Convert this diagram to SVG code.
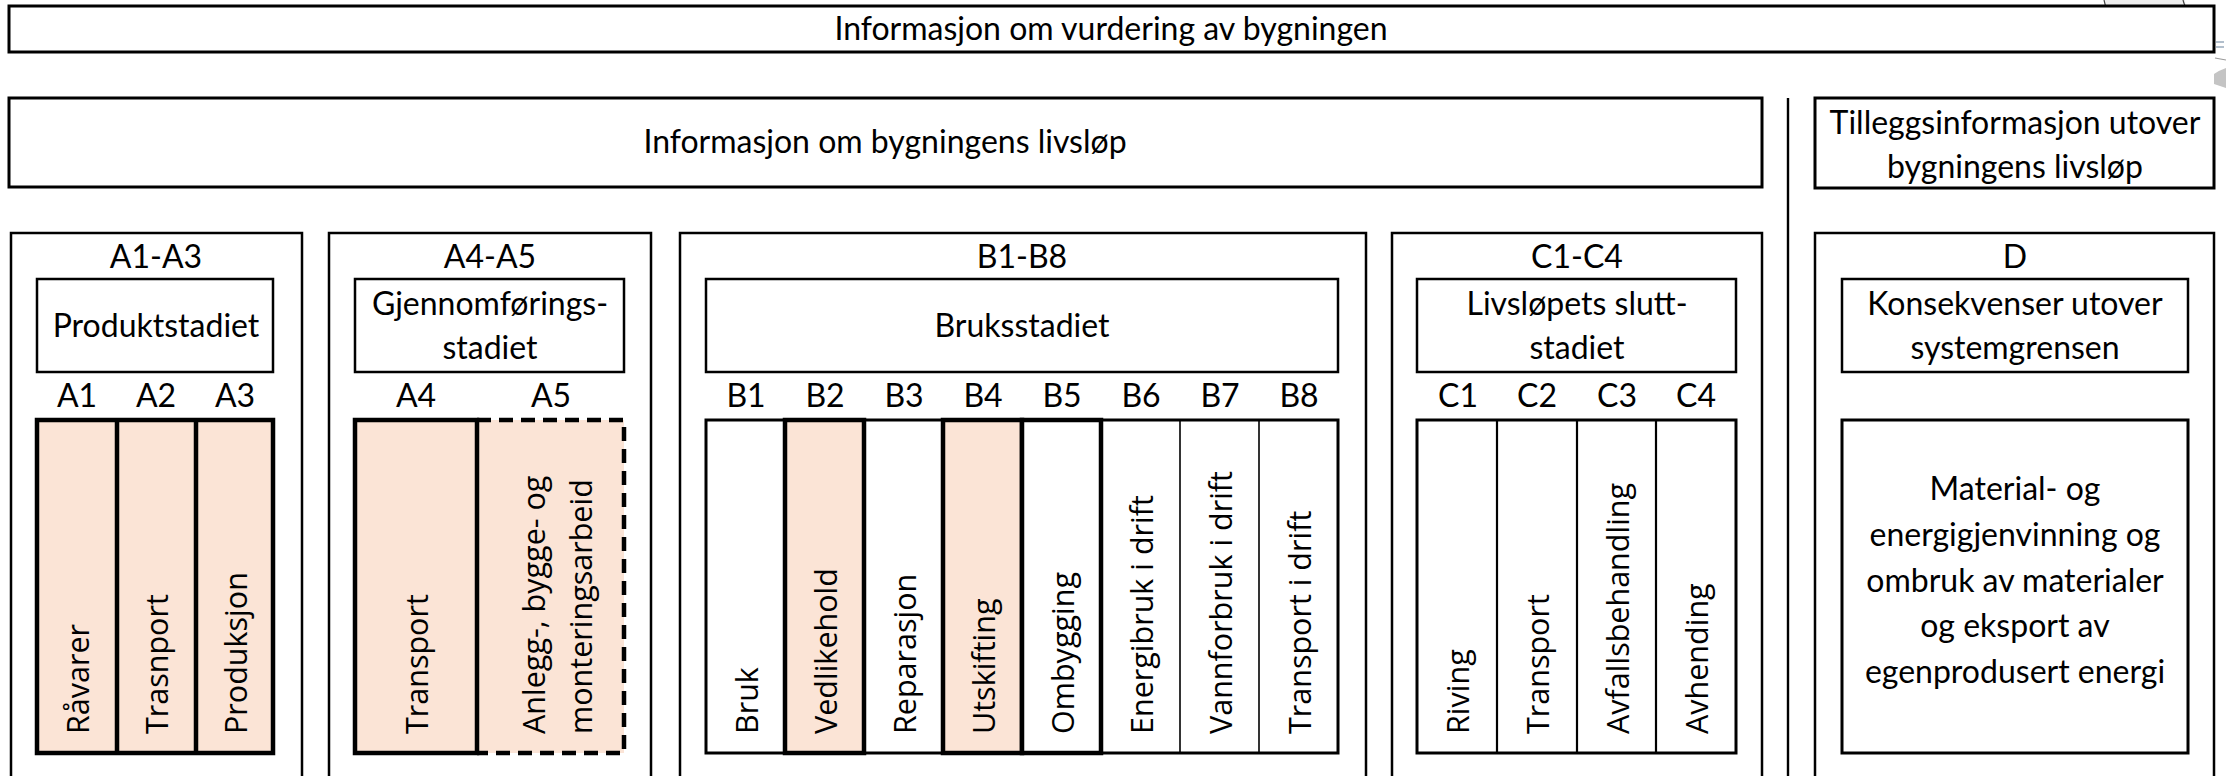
<svg xmlns="http://www.w3.org/2000/svg" width="2226" height="776" viewBox="0 0 2226 776">
<defs>
<style>
.t{font-family:Lato,"Liberation Sans",sans-serif;font-size:32px;fill:#000;text-anchor:middle}
.r{font-family:"Open Sans","Noto Sans","Liberation Sans",sans-serif;font-size:30.5px;fill:#000;text-anchor:start}
.big{fill:#fff;stroke:#000;stroke-width:3}
.outer{fill:#fff;stroke:#000;stroke-width:2.5}
.lbl{fill:#fff;stroke:#000;stroke-width:2.5}
.peach{fill:#FBE4D6}
.thick{stroke:#000;stroke-width:4.5}
.thin{stroke:#000;stroke-width:1.6;fill:none}
.mid{stroke:#000;stroke-width:2.2;fill:none}
</style>
</defs>
<rect width="2226" height="776" fill="#fff"/>

<g id="artifact">
<path d="M2104,0 L2185,0 L2186,8 L2104,8 Z" fill="#eeeeee"/>
<path d="M2104,0 Q2105,4 2106,8" stroke="#444" stroke-width="1.2" fill="none"/>
<path d="M2183,0 Q2184,4 2186,8" stroke="#444" stroke-width="1.2" fill="none"/>
<path d="M2214,74 Q2220,70 2226,68 L2226,88 Q2220,86 2214,84 Z" fill="#c4c4c4"/>
<line x1="2216" y1="42" x2="2224" y2="42" stroke="#9ab" stroke-width="1.5"/>
<line x1="2216" y1="47" x2="2224" y2="47" stroke="#9ab" stroke-width="1.5"/>
<line x1="2215" y1="58" x2="2226" y2="60" stroke="#999" stroke-width="1.2"/>
</g>

<g id="top">
<rect class="big" x="9" y="6" width="2205" height="46"/>
<text class="t" x="1111" y="40">Informasjon om vurdering av bygningen</text>
</g>

<g id="livslop">
<rect class="big" x="9" y="98" width="1753" height="89"/>
<text class="t" x="885" y="153">Informasjon om bygningens livsløp</text>
</g>

<g id="tillegg">
<rect class="big" x="1815" y="98" width="399" height="90"/>
<text class="t" x="2015" y="134">Tilleggsinformasjon utover</text>
<text class="t" x="2015" y="178">bygningens livsløp</text>
</g>

<g id="connectors">
<line x1="1788" y1="98" x2="1788" y2="776" stroke="#000" stroke-width="2.4"/>
</g>

<g id="A1-A3">
<rect class="outer" x="11" y="233" width="291" height="600"/>
<text class="t" x="156" y="268">A1-A3</text>
<rect class="lbl" x="37" y="279" width="236" height="93"/>
<text class="t" x="156" y="337">Produktstadiet</text>
<text class="t" x="77" y="407">A1</text>
<text class="t" x="156" y="407">A2</text>
<text class="t" x="235" y="407">A3</text>
<rect class="peach thick" x="37" y="420" width="236" height="333"/>
<line class="thick" x1="117" y1="420" x2="117" y2="753"/>
<line class="thick" x1="196" y1="420" x2="196" y2="753"/>
<text class="r" transform="translate(89,734) rotate(-90)">Råvarer</text>
<text class="r" transform="translate(168,734) rotate(-90)">Trasnport</text>
<text class="r" transform="translate(247,734) rotate(-90)">Produksjon</text>
</g>

<g id="A4-A5">
<rect class="outer" x="329" y="233" width="322" height="600"/>
<text class="t" x="490" y="268">A4-A5</text>
<rect class="lbl" x="355" y="279" width="269" height="93"/>
<text class="t" x="490" y="315">Gjennomførings-</text>
<text class="t" x="490" y="359">stadiet</text>
<text class="t" x="416" y="407">A4</text>
<text class="t" x="551" y="407">A5</text>
<rect class="peach" x="477" y="420" width="147" height="333"/>
<path d="M477,420 H624 V753 H477" fill="none" stroke="#000" stroke-width="4.5" stroke-dasharray="14 8"/>
<rect class="peach thick" x="355" y="420" width="122" height="333"/>
<text class="r" transform="translate(428,734) rotate(-90)">Transport</text>
<text class="r" transform="translate(545,734) rotate(-90)">Anlegg-, bygge- og</text>
<text class="r" transform="translate(592,734) rotate(-90)">monteringsarbeid</text>
</g>

<g id="B1-B8">
<rect class="outer" x="680" y="233" width="686" height="600"/>
<text class="t" x="1022" y="268">B1-B8</text>
<rect class="lbl" x="706" y="279" width="632" height="93"/>
<text class="t" x="1022" y="337">Bruksstadiet</text>
<text class="t" x="746" y="407">B1</text>
<text class="t" x="825" y="407">B2</text>
<text class="t" x="904" y="407">B3</text>
<text class="t" x="983" y="407">B4</text>
<text class="t" x="1062" y="407">B5</text>
<text class="t" x="1141" y="407">B6</text>
<text class="t" x="1220" y="407">B7</text>
<text class="t" x="1299" y="407">B8</text>
<rect x="706" y="420" width="632" height="333" fill="#fff" stroke="#000" stroke-width="3"/>
<line class="thin" x1="1180" y1="420" x2="1180" y2="753"/>
<line class="thin" x1="1259" y1="420" x2="1259" y2="753"/>
<rect class="peach thick" x="785" y="420" width="79" height="333"/>
<rect class="peach thick" x="943" y="420" width="79" height="333"/>
<rect class="thick" fill="#fff" x="1022" y="420" width="79" height="333"/>
<text class="r" transform="translate(758,734) rotate(-90)">Bruk</text>
<text class="r" transform="translate(837,734) rotate(-90)">Vedlikehold</text>
<text class="r" transform="translate(916,734) rotate(-90)">Reparasjon</text>
<text class="r" transform="translate(995,734) rotate(-90)">Utskifting</text>
<text class="r" transform="translate(1074,734) rotate(-90)">Ombygging</text>
<text class="r" transform="translate(1153,734) rotate(-90)">Energibruk i drift</text>
<text class="r" transform="translate(1232,734) rotate(-90)">Vannforbruk i drift</text>
<text class="r" transform="translate(1311,734) rotate(-90)">Transport i drift</text>
</g>

<g id="C1-C4">
<rect class="outer" x="1392" y="233" width="370" height="600"/>
<text class="t" x="1577" y="268">C1-C4</text>
<rect class="lbl" x="1417" y="279" width="319" height="93"/>
<text class="t" x="1577" y="315">Livsløpets slutt-</text>
<text class="t" x="1577" y="359">stadiet</text>
<text class="t" x="1458" y="407">C1</text>
<text class="t" x="1537" y="407">C2</text>
<text class="t" x="1617" y="407">C3</text>
<text class="t" x="1696" y="407">C4</text>
<rect x="1417" y="420" width="319" height="333" fill="#fff" stroke="#000" stroke-width="3"/>
<line class="mid" x1="1497" y1="420" x2="1497" y2="753"/>
<line class="mid" x1="1577" y1="420" x2="1577" y2="753"/>
<line class="mid" x1="1656" y1="420" x2="1656" y2="753"/>
<text class="r" transform="translate(1469,734) rotate(-90)">Riving</text>
<text class="r" transform="translate(1549,734) rotate(-90)">Transport</text>
<text class="r" transform="translate(1629,734) rotate(-90)">Avfallsbehandling</text>
<text class="r" transform="translate(1708,734) rotate(-90)">Avhending</text>
</g>

<g id="D">
<rect class="outer" x="1815" y="233" width="399" height="600"/>
<text class="t" x="2015" y="268">D</text>
<rect class="lbl" x="1842" y="279" width="346" height="93"/>
<text class="t" x="2015" y="315">Konsekvenser utover</text>
<text class="t" x="2015" y="359">systemgrensen</text>
<rect x="1842" y="420" width="346" height="333" fill="#fff" stroke="#000" stroke-width="3"/>
<text class="t" x="2015" y="500">Material- og</text>
<text class="t" x="2015" y="546">energigjenvinning og</text>
<text class="t" x="2015" y="592">ombruk av materialer</text>
<text class="t" x="2015" y="637">og eksport av</text>
<text class="t" x="2015" y="683">egenprodusert energi</text>
</g>
</svg>
